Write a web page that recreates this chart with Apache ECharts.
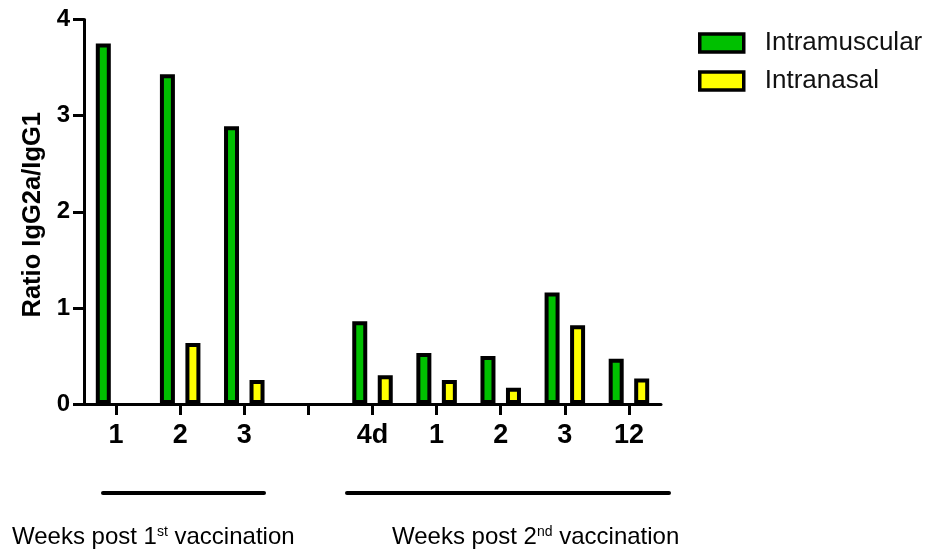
<!DOCTYPE html>
<html>
<head>
<meta charset="utf-8">
<script src="https://cdn.jsdelivr.net/npm/echarts@6/dist/echarts.min.js"></script>
<style>
html,body{margin:0;padding:0;background:#fff;}
#chart{width:927px;height:549px;}
</style>
</head>
<body>
<div id="chart"></div>
<script>
// ---- data ----
var categories = ['1', '2', '3', '', '4d', '1', '2', '3', '12'];
var seriesNames = ['Intramuscular', 'Intranasal'];
var intramuscular = [3.75, 3.43, 2.89, null, 0.86, 0.53, 0.50, 1.16, 0.47];
var intranasal = [null, 0.635, 0.25, null, 0.30, 0.25, 0.17, 0.82, 0.265];
var yTicks = [0, 1, 2, 3, 4];
var yAxisTitle = 'Ratio IgG2a/IgG1';
var groupLabels = [
  {pre: 'Weeks post 1', sup: 'st', post: ' vaccination'},
  {pre: 'Weeks post 2', sup: 'nd', post: ' vaccination'}
];

var FONT = '"Liberation Sans", Arial, Helvetica, sans-serif';
var chart = echarts.init(document.getElementById('chart'), null, {renderer: 'canvas'});

function richText(g) {
  return '{a|' + g.pre + '}{s|' + g.sup + '}{a|' + g.post + '}';
}
var richStyle = {
  a: {fontSize: 24, fontFamily: FONT, color: '#111', lineHeight: 26},
  s: {fontSize: 14, fontFamily: FONT, color: '#111', lineHeight: 14, verticalAlign: 'top', padding: [1, 0, 0, 0]}
};

var option = {
  backgroundColor: '#fff',
  animation: false,
  grid: {left: 84, right: 266, top: 19.5, bottom: 145, containLabel: false},
  legend: {
    orient: 'vertical',
    left: 698,
    top: 30,
    padding: 0,
    itemWidth: 44,
    itemHeight: 18,
    itemGap: 12,
    icon: 'rect',
    data: seriesNames,
    itemStyle: {borderColor: '#000', borderWidth: 3.5},
    textStyle: {fontSize: 26, fontFamily: FONT, color: '#111', padding: [0, 0, 0, 16], lineHeight: 26}
  },
  xAxis: {
    type: 'category',
    data: categories,
    boundaryGap: true,
    axisLine: {show: true, lineStyle: {color: '#000', width: 3}},
    axisTick: {show: true, alignWithLabel: true, length: 11, lineStyle: {color: '#000', width: 3}},
    axisLabel: {show: true, interval: 0, margin: 18, fontSize: 27, fontWeight: 'bold', fontFamily: FONT, color: '#000'},
    splitLine: {show: false}
  },
  yAxis: {
    type: 'value',
    min: yTicks[0],
    max: yTicks[yTicks.length - 1],
    interval: 1,
    name: yAxisTitle,
    nameLocation: 'middle',
    nameGap: 38,
    nameRotate: 90,
    nameTextStyle: {fontSize: 25.5, fontWeight: 'bold', fontFamily: FONT, color: '#000', padding: [0, 6, 0, 0]},
    axisLine: {show: true, lineStyle: {color: '#000', width: 3}},
    axisTick: {show: true, length: 11, lineStyle: {color: '#000', width: 3}},
    axisLabel: {margin: 14, fontSize: 24, fontWeight: 'bold', fontFamily: FONT, color: '#000'},
    splitLine: {show: false}
  },
  series: [
    {
      name: seriesNames[0],
      type: 'bar',
      data: intramuscular,
      barWidth: 15,
      barGap: '70%',
      itemStyle: {color: '#00c000', borderColor: '#000', borderWidth: 4}
    },
    {
      name: seriesNames[1],
      type: 'bar',
      data: intranasal,
      barWidth: 15,
      barGap: '70%',
      itemStyle: {color: '#ffff00', borderColor: '#000', borderWidth: 4}
    }
  ],
  graphic: [
    {type: 'line', shape: {x1: 103, y1: 493, x2: 264, y2: 493}, style: {stroke: '#000', lineWidth: 4, lineCap: 'round'}},
    {type: 'line', shape: {x1: 347, y1: 493, x2: 669, y2: 493}, style: {stroke: '#000', lineWidth: 4, lineCap: 'round'}},
    {type: 'text', left: 12, top: 524, style: {text: richText(groupLabels[0]), rich: richStyle}},
    {type: 'text', left: 392, top: 524, style: {text: richText(groupLabels[1]), rich: richStyle}}
  ]
};
chart.setOption(option);
</script>
</body>
</html>
